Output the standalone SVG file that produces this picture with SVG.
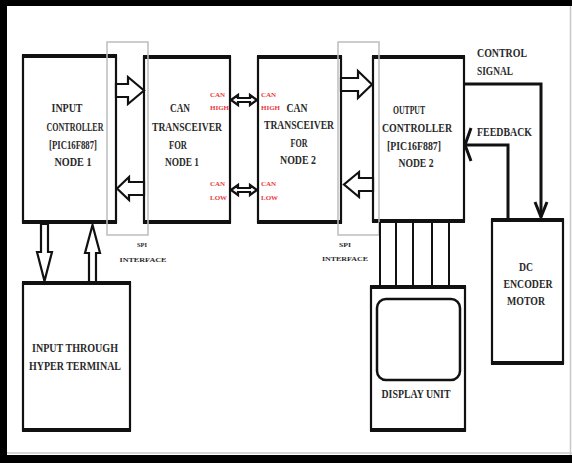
<svg xmlns="http://www.w3.org/2000/svg" width="572" height="463" viewBox="0 0 572 463">
<style>
.box{fill:#fff;stroke:#111;stroke-width:2.2}
.edge{stroke:#111;stroke-width:4}
.spi{fill:none;stroke:#bdbdbd;stroke-width:1.5}
.t{font-family:"Liberation Serif","Times New Roman",serif;font-weight:bold;font-size:13px;fill:#2a2a2a;text-anchor:middle}
.s{font-family:"Liberation Serif","Times New Roman",serif;font-weight:bold;font-size:7px;fill:#2a2a2a;text-anchor:middle}
.r{font-family:"Liberation Serif","Times New Roman",serif;font-weight:bold;font-size:7px;fill:#e8383d}
.ha{fill:#fff;stroke:#111;stroke-width:2.2;stroke-linejoin:miter}
.ln{fill:none;stroke:#111;stroke-width:3}
.dl{stroke:#111;stroke-width:2}
</style>
<rect x="0" y="0" width="572" height="463" fill="#000"/>
<rect x="7" y="6" width="565" height="449" fill="#fff"/>
<line x1="570.5" y1="6" x2="570.5" y2="455" stroke="#c8c8c8" stroke-width="1.5"/>
<line x1="7" y1="453" x2="572" y2="453" stroke="#c8c8c8" stroke-width="1.5"/>

<g id="input-controller">
<rect class="box" x="23" y="56" width="93" height="166"/>
<line class="edge" x1="22" y1="56" x2="117" y2="56"/>
<line class="edge" x1="22" y1="222" x2="117" y2="222"/>
<text class="t" x="67" y="112" textLength="31" lengthAdjust="spacingAndGlyphs">INPUT</text>
<text class="t" x="75" y="131" textLength="57" lengthAdjust="spacingAndGlyphs">CONTROLLER</text>
<text class="t" x="73" y="149" textLength="48" lengthAdjust="spacingAndGlyphs">[PIC16F887]</text>
<text class="t" x="73" y="166" textLength="37" lengthAdjust="spacingAndGlyphs">NODE 1</text>
</g>

<g id="can-transceiver-1">
<rect class="box" x="144" y="57" width="86" height="165"/>
<line class="edge" x1="143" y1="57" x2="231" y2="57"/>
<line class="edge" x1="143" y1="222" x2="231" y2="222"/>
<text class="t" x="180" y="112" textLength="20" lengthAdjust="spacingAndGlyphs">CAN</text>
<text class="t" x="187" y="131" textLength="70" lengthAdjust="spacingAndGlyphs">TRANSCEIVER</text>
<text class="t" x="178" y="149" textLength="18" lengthAdjust="spacingAndGlyphs">FOR</text>
<text class="t" x="182" y="166" textLength="34" lengthAdjust="spacingAndGlyphs">NODE 1</text>
<text class="r" x="210" y="97">CAN</text>
<text class="r" x="210" y="110">HIGH</text>
<text class="r" x="210" y="186">CAN</text>
<text class="r" x="210" y="200">LOW</text>
</g>

<g id="can-transceiver-2">
<rect class="box" x="258" y="57" width="83" height="165"/>
<line class="edge" x1="257" y1="57" x2="342" y2="57"/>
<line class="edge" x1="257" y1="222" x2="342" y2="222"/>
<text class="t" x="297" y="112" textLength="21" lengthAdjust="spacingAndGlyphs">CAN</text>
<text class="t" x="299" y="129" textLength="70" lengthAdjust="spacingAndGlyphs">TRANSCEIVER</text>
<text class="t" x="299" y="147" textLength="17" lengthAdjust="spacingAndGlyphs">FOR</text>
<text class="t" x="298" y="164" textLength="36" lengthAdjust="spacingAndGlyphs">NODE 2</text>
<text class="r" x="261" y="97">CAN</text>
<text class="r" x="261" y="110">HIGH</text>
<text class="r" x="261" y="186">CAN</text>
<text class="r" x="261" y="200">LOW</text>
</g>

<g id="output-controller">
<rect class="box" x="373" y="57" width="91" height="164"/>
<line class="edge" x1="372" y1="57" x2="465" y2="57"/>
<line class="edge" x1="372" y1="221" x2="465" y2="221"/>
<text class="t" x="409" y="114" textLength="32" lengthAdjust="spacingAndGlyphs">OUTPUT</text>
<text class="t" x="417" y="132" textLength="70" lengthAdjust="spacingAndGlyphs">CONTROLLER</text>
<text class="t" x="414" y="150" textLength="54" lengthAdjust="spacingAndGlyphs">[PIC16F887]</text>
<text class="t" x="416" y="167" textLength="35" lengthAdjust="spacingAndGlyphs">NODE 2</text>
</g>

<g id="dc-encoder-motor">
<rect class="box" x="492" y="220" width="71" height="143"/>
<line class="edge" x1="491" y1="220" x2="564" y2="220"/>
<line class="edge" x1="491" y1="363" x2="564" y2="363"/>
<text class="t" x="526" y="271" textLength="14" lengthAdjust="spacingAndGlyphs">DC</text>
<text class="t" x="528" y="288" textLength="49" lengthAdjust="spacingAndGlyphs">ENCODER</text>
<text class="t" x="526" y="305" textLength="38" lengthAdjust="spacingAndGlyphs">MOTOR</text>
</g>

<g id="display-unit">
<rect class="box" x="371" y="287" width="94" height="143"/>
<line class="edge" x1="370" y1="287" x2="466" y2="287"/>
<line class="edge" x1="370" y1="430" x2="466" y2="430"/>
<rect x="377" y="299" width="83" height="81" rx="9" fill="none" stroke="#111" stroke-width="2.5"/>
<text class="t" x="416" y="398" textLength="69" lengthAdjust="spacingAndGlyphs">DISPLAY UNIT</text>
</g>

<g id="hyper-terminal">
<rect class="box" x="23" y="283" width="107" height="147"/>
<line class="edge" x1="22" y1="283" x2="131" y2="283"/>
<line class="edge" x1="22" y1="430" x2="131" y2="430"/>
<text class="t" x="75" y="352" textLength="86" lengthAdjust="spacingAndGlyphs">INPUT THROUGH</text>
<text class="t" x="75" y="370" textLength="92" lengthAdjust="spacingAndGlyphs">HYPER TERMINAL</text>
</g>

<g id="spi-interface-1">
<rect class="spi" x="107" y="42" width="41" height="193"/>
<text class="s" x="142" y="247" textLength="10" lengthAdjust="spacingAndGlyphs">SPI</text>
<text class="s" x="143" y="262" textLength="47" lengthAdjust="spacingAndGlyphs">INTERFACE</text>
</g>

<g id="spi-interface-2">
<rect class="spi" x="338" y="42" width="41" height="193"/>
<text class="s" x="345" y="247" textLength="12" lengthAdjust="spacingAndGlyphs">SPI</text>
<text class="s" x="345" y="261" textLength="46" lengthAdjust="spacingAndGlyphs">INTERFACE</text>
</g>

<g id="connectors">
<polygon class="ha" points="116,84 128,84 128,77 144,90.5 128,104 128,97 116,97"/>
<polygon class="ha" points="144,182 129,182 129,177 117,188.5 129,200 129,195 144,195"/>
<polygon class="ha" points="341,78 358,78 358,71 372,84.5 358,98 358,91 341,91"/>
<polygon class="ha" points="373,178 359,178 359,172 344,184.5 359,197 359,191 373,191"/>
<polygon class="ha" points="231,100 238,95 238,98 250,98 250,95 257,100 250,105 250,102 238,102 238,105"/>
<polygon class="ha" points="231,190 238,185 238,188 250,188 250,185 257,190 250,195 250,192 238,192 238,195"/>
<polygon class="ha" points="41,224 48,224 48,252 52,252 44.5,281 37,252 41,252"/>
<polygon class="ha" points="89,282 96,282 96,253 100,253 92.5,225 85,253 89,253"/>
<line class="dl" x1="380" y1="222" x2="380" y2="287"/>
<line class="dl" x1="396" y1="222" x2="396" y2="287"/>
<line class="dl" x1="413" y1="222" x2="413" y2="287"/>
<line class="dl" x1="432" y1="222" x2="432" y2="287"/>
<line class="dl" x1="449" y1="222" x2="449" y2="287"/>
<polyline class="ln" points="464,84 541,84 541,217"/>
<polyline class="ln" points="535,202 541,217 547,202"/>
<polyline class="ln" points="508,220 508,145 466,145"/>
<polyline class="ln" points="471,128 465,145 471,161"/>
<text class="t" x="477" y="57" style="text-anchor:start" textLength="50" lengthAdjust="spacingAndGlyphs">CONTROL</text>
<text class="t" x="477" y="75" style="text-anchor:start" textLength="36" lengthAdjust="spacingAndGlyphs">SIGNAL</text>
<text class="t" x="477" y="136" style="text-anchor:start" textLength="55" lengthAdjust="spacingAndGlyphs">FEEDBACK</text>
</g>
</svg>
